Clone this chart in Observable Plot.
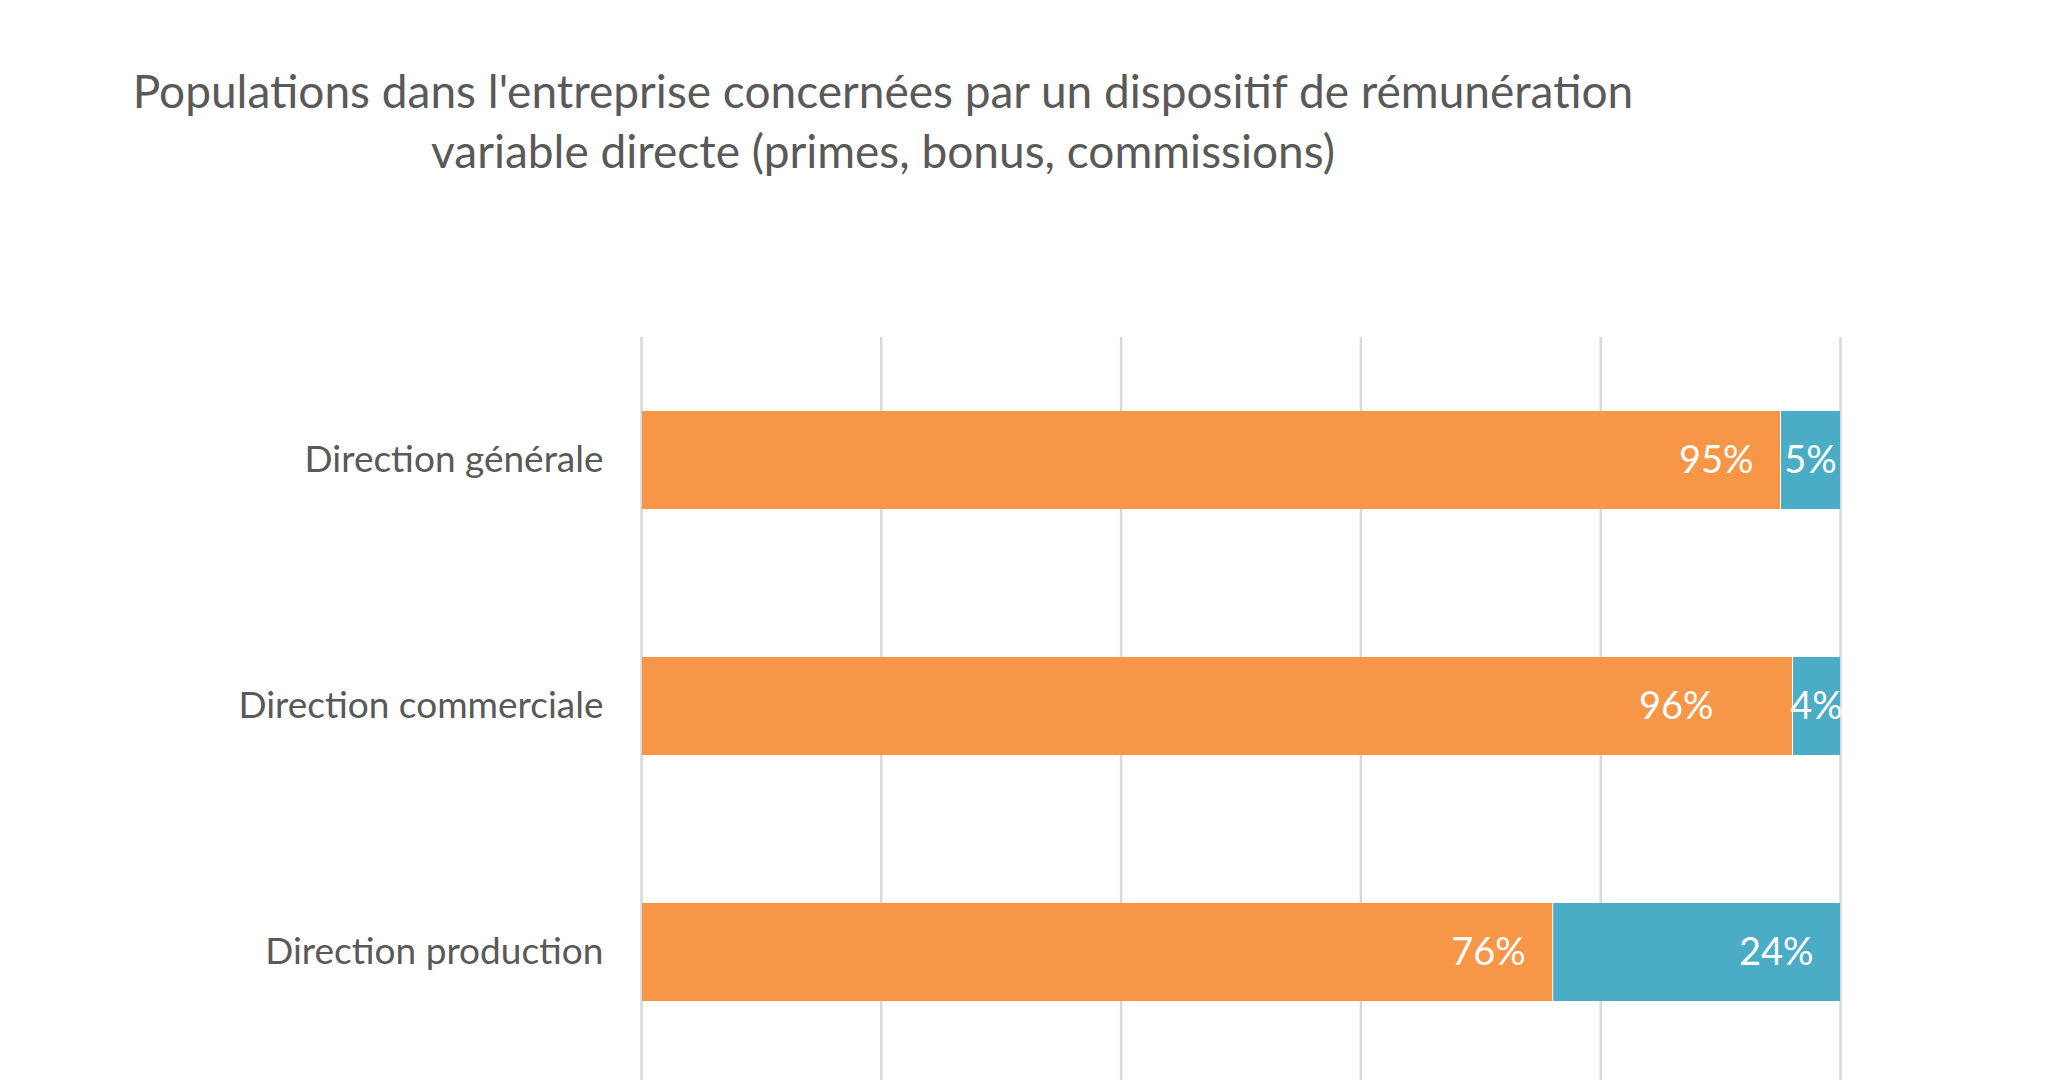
<!DOCTYPE html>
<html><head><meta charset="utf-8">
<script src="https://cdn.jsdelivr.net/npm/d3@7"></script>
<script src="https://cdn.jsdelivr.net/npm/@observablehq/plot@0.6"></script>
<style>
body{margin:0;background:#fff;}
#title{width:1766px;height:250px;box-sizing:border-box;padding-top:61px;text-align:center;font-family:Lato,"Open Sans",sans-serif;font-size:46px;line-height:60px;color:#595959;}
#chart svg{display:block;}
</style></head><body>
<div id="title">Populations dans l'entreprise concernées par un dispositif de rémunération<br>variable directe (primes, bonus, commissions)</div>
<div id="chart"></div>
<script>
const categories = ["Direction générale", "Direction commerciale", "Direction production"];
const seriesNames = ["Concernées", "Non concernées"];
const concernees = [95, 96, 76];
const nonConcernees = [5, 4, 24];
const gridTicks = [0, 20, 40, 60, 80, 100];
const colors = ["#F79646", "#4BACC6"];

const rows = [];
categories.forEach((c, i) => {
  rows.push({cat: c, series: seriesNames[0], value: concernees[i]});
  rows.push({cat: c, series: seriesNames[1], value: nonConcernees[i]});
});
const label = d => d.value + "%";
const isNarrow = d => d.value < 10;
const isShifted = d => d.cat === categories[1] && d.series === seriesNames[0];

const chart = Plot.plot({
  width: 2048,
  height: 830,
  marginTop: 87,
  marginBottom: 0,
  marginLeft: 641,
  marginRight: 208,
  style: {fontFamily: "Lato, 'Open Sans', sans-serif", color: "#595959", background: "#fff"},
  x: {domain: [0, 100], axis: null},
  y: {domain: categories, paddingInner: 0.6, paddingOuter: 0.3, insetBottom: 5, label: null, axis: null},
  color: {domain: seriesNames, range: colors},
  marks: [
    Plot.ruleX(gridTicks, {stroke: "#D9D9D9", strokeWidth: 2.5}),
    Plot.barX(rows, Plot.stackX({y: "cat", x: "value", fill: "series", z: "series", order: seriesNames, insetLeft: 1})),
    Plot.axisY({tickSize: 0, tickPadding: 38, fontSize: 37, label: null}),
    Plot.text(rows, Plot.stackX2({y: "cat", x: "value", z: "series", order: seriesNames,
      text: d => (!isNarrow(d) && !isShifted(d)) ? label(d) : null,
      textAnchor: "end", dx: -27, fill: "white", fontSize: 38})),
    Plot.text(rows, Plot.stackX2({y: "cat", x: "value", z: "series", order: seriesNames,
      text: d => isShifted(d) ? label(d) : null,
      textAnchor: "end", dx: -79, fill: "white", fontSize: 38})),
    Plot.text(rows, Plot.stackX({y: "cat", x: "value", z: "series", order: seriesNames,
      text: d => isNarrow(d) ? label(d) : null,
      fill: "white", fontSize: 38}))
  ]
});
document.getElementById("chart").appendChild(chart);
</script></body></html>
